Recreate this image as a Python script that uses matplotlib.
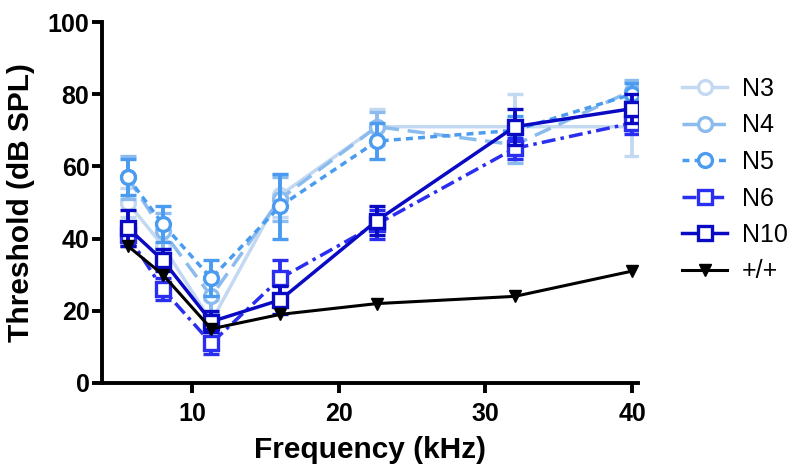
import numpy as np
import matplotlib
matplotlib.use("Agg")
import matplotlib.pyplot as plt

plt.rcParams['font.family'] = ['Liberation Sans', 'DejaVu Sans']

freqs = [5.6, 8, 11.3, 16, 22.6, 32, 40]

labels = ["N3", "N4", "N5", "N6", "N10", "+/+"]
n3 = [50, 38, 17, 52, 71, 71, 71]
n4 = [57, 42, 24, 51, 71, 66, 81]
n5 = [57, 44, 29, 49, 67, 70, 80]
n6 = [41, 26, 11, 29, 44, 65, 72]
n10 = [43, 34, 17, 23, 45, 71, 76]
wt = [38, 30, 15, 19, 22, 24, 31]

n3_err = [4, 4, 6, 6, 5, 9, 8]
n4_err = [6, 5, 5, 6, 4, 5, 3]
n5_err = [5, 5, 5, 9, 5, 4, 3]
n6_err = [3, 3, 3, 5, 4, 3, 3]
n10_err = [5, 3, 3, 4, 4, 5, 4]

colors = ["#c3d9f2", "#8cbcee", "#4b9cf0", "#2a2ef0", "#0a0ac4", "black"]
styles = ["-", (0, (5, 2.5)), (0, (2, 1.5)), (0, (4, 1.5, 1, 1.5)), "-", "-"]
markers = ["o", "o", "o", "s", "s", "v"]

fig = plt.figure(figsize=(8, 4.72), dpi=100)
ax = fig.add_axes([102 / 800, 89 / 472, 536 / 800, 361 / 472])

series = [n3, n4, n5, n6, n10]
errs = [n3_err, n4_err, n5_err, n6_err, n10_err]
handles = []
for i, (y, e) in enumerate(zip(series, errs)):
    eb = ax.errorbar(freqs, y, yerr=e, color=colors[i], ls=styles[i], lw=2.5,
                     marker=markers[i], ms=10, mfc="white", mec=colors[i], mew=2.4,
                     capsize=6, capthick=2.8, elinewidth=2.8, zorder=2 + i)
    handles.append(eb.lines[0])

h, = ax.plot(freqs, wt, color="black", lw=2.2, marker="v", ms=9, zorder=8)
handles.append(h)

ax.set_xlim(3.85, 40.4)
ax.set_ylim(0, 100)
ax.set_xticks([10, 20, 30, 40])
ax.set_yticks([0, 20, 40, 60, 80, 100])
for s in ["top", "right"]:
    ax.spines[s].set_visible(False)
for s in ["left", "bottom"]:
    ax.spines[s].set_linewidth(2.8)
ax.tick_params(axis="y", width=2.8, length=7, labelsize=18, pad=2)
ax.tick_params(axis="x", width=2.8, length=7, labelsize=18, pad=7)
for t in ax.get_xticklabels() + ax.get_yticklabels():
    t.set_fontweight("bold")
ax.set_xlabel("Frequency (kHz)", fontsize=21.5, fontweight="bold", labelpad=7)
ax.set_ylabel("Threshold (dB SPL)", fontsize=21.5, fontweight="bold", labelpad=9)

fig.legend(handles, labels, loc="upper left", bbox_to_anchor=(672 / 800, 1 - 67 / 472),
           frameon=False, fontsize=18, handlelength=1.8, labelspacing=0.5,
           handletextpad=0.6, borderaxespad=0)

fig.savefig("out.png", dpi=100)
